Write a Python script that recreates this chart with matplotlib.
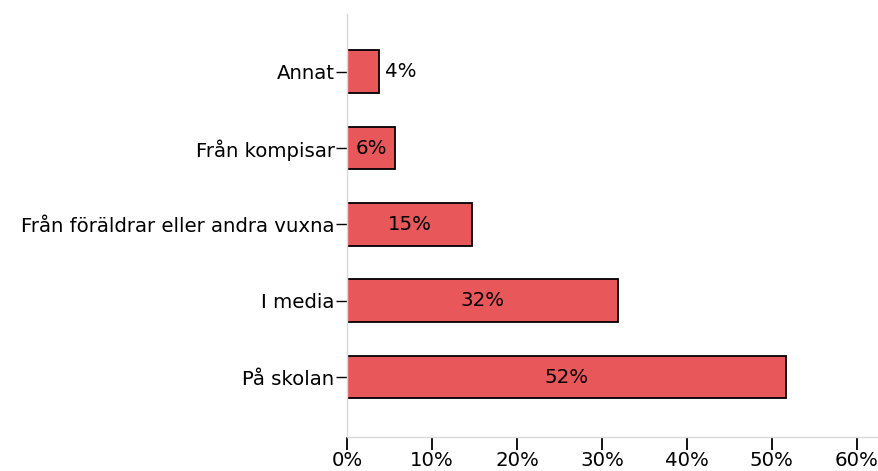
import matplotlib
matplotlib.use("Agg")
import matplotlib.pyplot as plt
from matplotlib.ticker import FuncFormatter

# Data (bottom to top)
categories = ["På skolan", "I media", "Från föräldrar eller andra vuxna", "Från kompisar", "Annat"]
values = [51.6, 31.9, 14.7, 5.7, 3.8]
labels = ["52%", "32%", "15%", "6%", "4%"]
xticks = [0, 10, 20, 30, 40, 50, 60]

plt.rcParams['font.family'] = ['DejaVu Sans']
fs = 14.2

fig = plt.figure(figsize=(8.79, 4.71), dpi=100)
ax = fig.add_axes([0.3948, 0.0722, 0.6052, 0.898])

y = list(range(len(categories)))
bars = ax.barh(y, values, height=0.56, color="#E8575A", edgecolor="black", linewidth=1.3)

for bar, val, lab in zip(bars, values, labels):
    cy = bar.get_y() + bar.get_height() / 2
    if val < 5:
        ax.text(val + 0.7, cy, lab, ha="left", va="center", fontsize=fs, color="black")
    else:
        ax.text(val / 2, cy, lab, ha="center", va="center", fontsize=fs, color="black")

ax.set_yticks(y)
ax.set_yticklabels(categories, fontsize=fs)
ax.set_xticks(xticks)
ax.xaxis.set_major_formatter(FuncFormatter(lambda v, p: f"{int(v)}%"))
ax.tick_params(axis="x", labelsize=fs, length=9, width=1.3, color="black", pad=1)
ax.tick_params(axis="y", length=8, width=1.0, color="black", pad=1)

ax.set_xlim(0, 62.6)
ax.set_ylim(-0.786, 4.757)

for s in ["top", "right"]:
    ax.spines[s].set_visible(False)
for s in ["left", "bottom"]:
    ax.spines[s].set_color("#d9d9d9")
    ax.spines[s].set_linewidth(1.0)

fig.savefig("out.png", dpi=100)
